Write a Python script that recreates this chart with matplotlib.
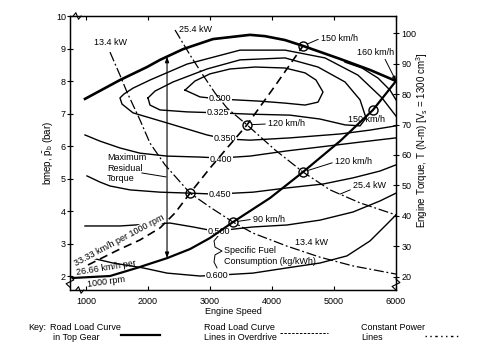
import numpy as np
import matplotlib
matplotlib.use('Agg')
import matplotlib.pyplot as plt
from matplotlib.lines import Line2D

plt.rcParams['font.family'] = ['Liberation Sans', 'DejaVu Sans']
plt.rcParams['font.size'] = 6.5
plt.rcParams['mathtext.fontset'] = 'custom'
plt.rcParams['mathtext.rm'] = 'Liberation Sans'
plt.rcParams['mathtext.it'] = 'Liberation Sans:italic'

# engine speed (rpm) / bmep (bar)
max_rpm = [984, 1548, 1984, 2194, 2565, 3048, 3645, 3887, 4210, 4500, 5097, 5581, 6000]
max_bar = [7.45, 8.03, 8.43, 8.65, 8.98, 9.29, 9.42, 9.38, 9.26, 9.08, 8.68, 8.34, 8.00]

top_rpm = [790, 1387, 1823, 2307, 2678, 3000, 3371, 3968, 4500, 5097, 5629, 6000]
top_bar = [1.94, 2.00, 2.25, 2.55, 2.83, 3.17, 3.66, 4.40, 5.20, 6.15, 7.11, 8.00]

od_rpm = [1032, 1516, 1871, 2194, 2436, 2678, 3000, 3290, 3597, 4049, 4500]
od_bar = [2.34, 2.80, 3.11, 3.48, 3.94, 4.55, 5.32, 5.97, 6.65, 7.85, 9.08]

p13_rpm = [1387, 1548, 1661, 1871, 2032, 2274, 2678, 3000, 3371, 3694, 4242, 4774, 5307, 6000]
p13_bar = [8.89, 8.18, 7.66, 6.80, 6.09, 5.42, 4.55, 4.12, 3.66, 3.32, 2.92, 2.58, 2.31, 2.06]

p25_rpm = [2436, 2678, 2887, 3081, 3274, 3597, 4049, 4500, 4936, 5420, 6000]
p25_bar = [9.57, 8.80, 8.18, 7.63, 7.17, 6.65, 5.88, 5.20, 4.65, 4.25, 3.88]

# specific fuel consumption contours (kg/kWh)
c300_rpm = [2597, 2758, 3000, 3323, 3726, 4210, 4533, 4710, 4823, 4742, 4533, 4210, 3806, 3403, 3129, 2839, 2597]
c300_bar = [7.72, 8.00, 8.22, 8.37, 8.43, 8.40, 8.25, 8.03, 7.66, 7.35, 7.26, 7.32, 7.38, 7.42, 7.45, 7.51, 7.72]
c325_rpm = [2000, 2113, 2403, 2952, 3484, 4210, 4742, 5178, 5420, 5517, 5420, 5178, 4774, 4290, 3645, 3129, 2629, 2194, 2032, 2000]
c325_bar = [7.48, 7.69, 7.97, 8.37, 8.65, 8.71, 8.43, 7.97, 7.42, 6.86, 6.62, 6.65, 6.83, 6.95, 6.98, 7.02, 7.05, 7.11, 7.26, 7.48]
c350_rpm = [6000, 5774, 5387, 4855, 4210, 3484, 2629, 2032, 1758, 1613, 1548, 1581, 1758, 2307, 2952, 3242, 3645, 4290, 5097, 5581, 6000]
c350_bar = [6.92, 7.48, 8.18, 8.71, 8.95, 8.95, 8.52, 8.03, 7.78, 7.60, 7.48, 7.29, 7.02, 6.71, 6.34, 6.22, 6.18, 6.25, 6.37, 6.49, 6.62]
c400_rpm = [984, 1226, 1548, 1871, 2307, 2839, 3161, 3645, 4242, 4774, 5420, 6000]
c400_bar = [6.34, 6.15, 5.94, 5.78, 5.69, 5.66, 5.63, 5.69, 5.85, 5.97, 6.12, 6.25]
c400b_rpm = [5178, 5452, 5710, 5903, 6000]
c400b_bar = [8.58, 8.40, 8.09, 7.72, 7.42]
c450_rpm = [1016, 1226, 1387, 1710, 2194, 2678, 3081, 3694, 4242, 4823, 5307, 5742, 6000]
c450_bar = [5.08, 4.89, 4.77, 4.65, 4.58, 4.55, 4.52, 4.58, 4.71, 4.83, 5.02, 5.23, 5.42]
c500_rpm = [984, 1548, 2032, 2355, 2726, 3081, 3694, 4242, 4774, 5307, 5742, 6000]
c500_bar = [3.54, 3.54, 3.60, 3.63, 3.51, 3.38, 3.51, 3.57, 3.72, 3.97, 4.31, 4.55]
c600_rpm = [1032, 1436, 1919, 2307, 2839, 3161, 3694, 4242, 4774, 5210, 5581, 5855, 6000]
c600_bar = [2.58, 2.40, 2.25, 2.09, 2.00, 2.03, 2.09, 2.25, 2.40, 2.62, 3.08, 3.60, 3.88]

sfc_labels = ['0.300', '0.325', '0.350', '0.400', '0.450', '0.500', '0.600']
sfc_lab_rpm = [3161, 3129, 3242, 3177, 3161, 3145, 3113]
sfc_lab_bar = [7.45, 7.02, 6.22, 5.60, 4.52, 3.38, 2.03]

# vehicle speed points (90, 120, 150 km/h)
od_pt_rpm = [2678, 3597, 4500]
od_pt_bar = [4.55, 6.65, 9.08]
top_pt_rpm = [3371, 4500, 5629]
top_pt_bar = [3.66, 5.20, 7.11]
resid_rpm = 2307

x_ticks = [1000, 2000, 3000, 4000, 5000, 6000]
bar_ticks = [2, 3, 4, 5, 6, 7, 8, 9, 10]
torque_ticks = [20, 30, 40, 50, 60, 70, 80, 90, 100]

fig = plt.figure(figsize=(4.96, 3.6), dpi=100)
ax = fig.add_axes([70/496, 1-290/360, 326/496, 274/360])
ax.set_xlim(742, 6000)
ax.set_ylim(1.57, 10.0)

for r, b in [(c300_rpm, c300_bar), (c325_rpm, c325_bar), (c350_rpm, c350_bar),
             (c400_rpm, c400_bar), (c400b_rpm, c400b_bar), (c450_rpm, c450_bar),
             (c500_rpm, c500_bar), (c600_rpm, c600_bar)]:
    ax.plot(r, b, color='k', lw=1.0, zorder=2)

for t, r, b in zip(sfc_labels, sfc_lab_rpm, sfc_lab_bar):
    ax.text(r, b, t, ha='center', va='center', zorder=3,
            bbox=dict(facecolor='white', edgecolor='none', pad=0.4))

ax.plot(max_rpm, max_bar, color='k', lw=1.9, zorder=4)
ax.plot(top_rpm, top_bar, color='k', lw=1.6, zorder=4)
ax.plot(od_rpm, od_bar, color='k', lw=1.2, dashes=(5, 3), zorder=4)
ax.plot(p13_rpm, p13_bar, color='k', lw=0.9, dashes=(8, 2.2, 1.5, 2.2), zorder=4)
ax.plot(p25_rpm, p25_bar, color='k', lw=0.9, dashes=(8, 2.2, 1.5, 2.2), zorder=4)

ax.plot(od_pt_rpm, od_pt_bar, 'o', mfc='none', mec='k', ms=6.5, mew=1.0, zorder=5)
ax.plot(top_pt_rpm, top_pt_bar, 'o', mfc='none', mec='k', ms=6.5, mew=1.0, zorder=5)

# maximum residual torque arrow
y_lo = np.interp(resid_rpm, top_rpm, top_bar)
y_hi = np.interp(resid_rpm, max_rpm, max_bar)
ax.annotate('', xy=(resid_rpm, y_hi), xytext=(resid_rpm, y_lo),
            arrowprops=dict(arrowstyle='<|-|>,head_length=0.5,head_width=0.18',
                            lw=0.8, color='k', shrinkA=0, shrinkB=0), zorder=4)
ax.text(1339, 5.66, 'Maximum', ha='left', va='center')
ax.text(1339, 5.32, 'Residual', ha='left', va='center')
ax.text(1339, 5.00, 'Torque', ha='left', va='center')
ax.plot([1903, 2290], [5.17, 5.05], color='k', lw=0.7)

lead = dict(arrowstyle='-', lw=0.7, color='k', shrinkA=0, shrinkB=3.5, relpos=(0, 0.5))
ax.annotate('150 km/h', xy=(od_pt_rpm[2], od_pt_bar[2]), xytext=(4790, 9.32),
            va='center', ha='left', arrowprops=lead)
ax.annotate('120 km/h', xy=(od_pt_rpm[1], od_pt_bar[1]), xytext=(3936, 6.68),
            va='center', ha='left', arrowprops=lead)
ax.annotate('90 km/h', xy=(top_pt_rpm[0], top_pt_bar[0]), xytext=(3694, 3.75),
            va='center', ha='left', arrowprops=lead)
ax.annotate('120 km/h', xy=(top_pt_rpm[1], top_pt_bar[1]), xytext=(5016, 5.51),
            va='center', ha='left', arrowprops=lead)
ax.text(5226, 6.83, '150 km/h', ha='left', va='center')
ax.annotate('160 km/h', xy=(max_rpm[-1], max_bar[-1]), xytext=(5371, 8.89),
            va='center', ha='left',
            arrowprops=dict(arrowstyle='-|>,head_length=0.4,head_width=0.15', lw=0.7,
                            color='k', shrinkA=0, shrinkB=0, relpos=(0.72, 0)))
ax.annotate('25.4 kW', xy=(5097, 4.52), xytext=(5307, 4.77), va='center', ha='left',
            arrowprops=dict(arrowstyle='-', lw=0.7, color='k', shrinkA=0, shrinkB=0,
                            relpos=(0, 0.2)))
ax.text(1403, 9.17, '13.4 kW', ha='center', va='center')
ax.text(2774, 9.60, '25.4 kW', ha='center', va='center')
ax.text(4630, 3.02, '13.4 kW', ha='center', va='center')

ax.text(1530, 3.08, '33.33 km/h per 1000 rpm', rotation=28, ha='center', va='center',
        rotation_mode='anchor', zorder=3,
        bbox=dict(facecolor='white', edgecolor='none', pad=0.3))
ax.text(1330, 2.24, '26.66 km/h per', rotation=9, ha='center', va='center',
        rotation_mode='anchor')
ax.text(1323, 1.83, '1000 rpm', rotation=8, ha='center', va='center',
        rotation_mode='anchor')

ax.text(3230, 2.80, 'Specific Fuel', ha='left', va='center')
ax.text(3230, 2.46, 'Consumption (kg/kWh)', ha='left', va='center')
ax.plot([3129, 3065, 3081, 3194, 3081, 3065, 3113],
        [3.23, 3.08, 2.89, 2.77, 2.65, 2.43, 2.25], color='k', lw=0.7)

# axes, ticks
ax.set_xticks(x_ticks)
ax.set_yticks(bar_ticks)
ax.tick_params(axis='x', direction='in', length=3, top=True, bottom=True, pad=5, width=0.8)
ax.tick_params(axis='y', direction='inout', length=4, pad=1, width=0.8)
for s in ax.spines.values():
    s.set_linewidth(0.9)

ax2 = ax.twinx()
ax2.set_ylim(15.7, 105.6)
ax2.set_yticks(torque_ticks)
ax2.tick_params(axis='y', direction='inout', length=4, pad=2, width=0.8)
for s in ax2.spines.values():
    s.set_linewidth(0.9)

# axis break marks
def brk(x, y, vertical):
    if vertical:
        xs = [x, x - 0.012, x + 0.012, x]
        ys = [y - 0.02, y - 0.007, y + 0.007, y + 0.02]
    else:
        xs = [x - 0.012, x - 0.004, x + 0.004, x + 0.012]
        ys = [y, y + 0.012, y - 0.012, y]
    ax.plot(xs, ys, color='k', lw=0.8, transform=ax.transAxes, clip_on=False, zorder=6)

brk(0.0, 0.03, True)
brk(0.03, 0.0, False)
brk(0.022, 1.0, False)
brk(1.0, 0.02, True)

fig.text(233/496, 1-312/360, 'Engine Speed', ha='center', va='center')
fig.text(48/496, 1-153/360, r'bmep, $\mathregular{\bar{p}_b}$ (bar)', rotation=90,
         ha='center', va='center', fontsize=7)
fig.text(422/496, 1-140/360,
         r'Engine Torque, T (N-m) [V$_\mathregular{s}$ = 1300 cm$^\mathregular{3}$]',
         rotation=90, ha='center', va='center', fontsize=7)

# key
fig.text(28/496, 1-328/360, 'Key:', va='center')
fig.text(50/496, 1-328/360, 'Road Load Curve', va='center')
fig.text(53/496, 1-338/360, 'in Top Gear', va='center')
fig.add_artist(Line2D([121/496, 160/496], [1-335/360]*2, color='k', lw=1.6))
fig.text(204/496, 1-328/360, 'Road Load Curve', va='center')
fig.text(204/496, 1-338/360, 'Lines in Overdrive', va='center')
fig.add_artist(Line2D([280/496, 328/496], [1-333/360]*2, color='k', lw=0.7, dashes=(2.5, 1.5)))
fig.text(361/496, 1-328/360, 'Constant Power', va='center')
fig.text(361/496, 1-338/360, 'Lines', va='center')
fig.add_artist(Line2D([425/496, 458/496], [1-336/360]*2, color='k', lw=1.0,
                      dashes=(1, 2.5, 1, 2.5, 1.8, 2.5)))

fig.savefig('out.png', dpi=100)
